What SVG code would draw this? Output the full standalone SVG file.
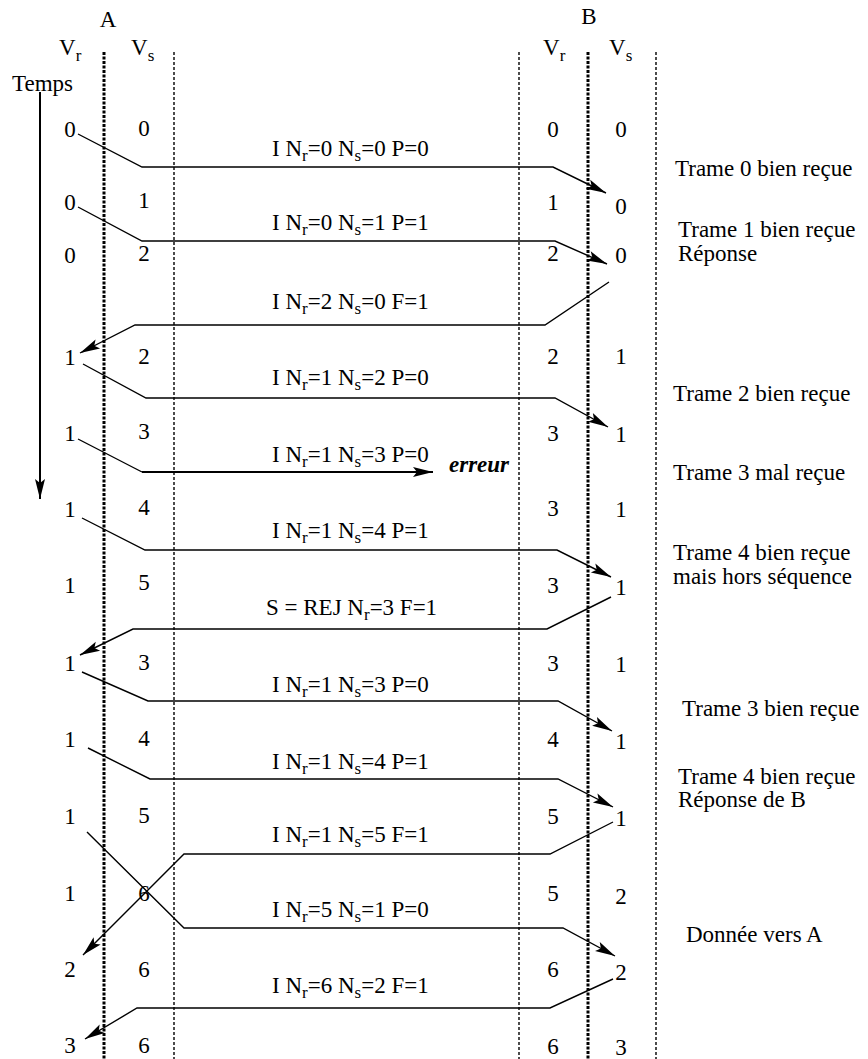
<svg xmlns="http://www.w3.org/2000/svg" width="868" height="1059" viewBox="0 0 868 1059" font-family="'Liberation Serif', 'DejaVu Serif', 'Times New Roman', serif">
<style>
text{font-family:"Liberation Serif","DejaVu Serif","Times New Roman",serif;font-size:23px;fill:#000}
.c{text-anchor:middle}
.sub{font-size:17px}
.err{font-weight:bold;font-style:italic}
.thick{stroke:#000;stroke-width:3;stroke-dasharray:3 1.5;fill:none}
.thin{stroke:#000;stroke-width:1.4;stroke-dasharray:3 2;fill:none}
.msg{stroke:#000;stroke-width:1.4;fill:none;marker-end:url(#ah)}
.seg{stroke:#000;stroke-width:1.4;fill:none}
.msgb{stroke:#000;stroke-width:2.2;fill:none;marker-end:url(#ah)}
</style>
<defs>
<marker id="ah" markerUnits="userSpaceOnUse" viewBox="0 0 20 10" markerWidth="20" markerHeight="10" refX="20" refY="5" orient="auto" overflow="visible">
<path d="M0,0 L20,5 L0,10 L4,5 Z" fill="#000"/>
</marker>
</defs>
<rect width="868" height="1059" fill="#fff"/>

<g id="header">
<text x="108" y="27" class="c">A</text>
<text x="589" y="24" class="c">B</text>
<text x="59" y="55">V<tspan class="sub" dy="6">r</tspan></text>
<text x="131" y="55">V<tspan class="sub" dy="6">s</tspan></text>
<text x="543" y="55">V<tspan class="sub" dy="6">r</tspan></text>
<text x="609" y="55">V<tspan class="sub" dy="6">s</tspan></text>
<text x="12" y="91">Temps</text>
</g>

<g id="lifelines">
<line class="thick" x1="104" y1="52" x2="104" y2="1059"/>
<line class="thin" x1="174" y1="52" x2="174" y2="1059"/>
<line class="thin" x1="519" y1="52" x2="519" y2="1059"/>
<line class="thick" x1="588" y1="52" x2="588" y2="1059"/>
<line class="thin" x1="656" y1="52" x2="656" y2="1059"/>
</g>

<g id="time-axis">
<line x1="40" y1="92" x2="40" y2="499" stroke="#000" stroke-width="2" marker-end="url(#ah)"/>
</g>

<g id="A-Vr">
<text x="70" y="137" class="c">0</text>
<text x="70" y="210" class="c">0</text>
<text x="70" y="263" class="c">0</text>
<text x="70" y="365" class="c">1</text>
<text x="70" y="441" class="c">1</text>
<text x="70" y="517" class="c">1</text>
<text x="70" y="593" class="c">1</text>
<text x="70" y="671" class="c">1</text>
<text x="70" y="747" class="c">1</text>
<text x="70" y="824" class="c">1</text>
<text x="70" y="901" class="c">1</text>
<text x="70" y="977" class="c">2</text>
<text x="70" y="1053" class="c">3</text>
</g>

<g id="A-Vs">
<text x="144" y="136" class="c">0</text>
<text x="144" y="208" class="c">1</text>
<text x="144" y="261" class="c">2</text>
<text x="144" y="364" class="c">2</text>
<text x="144" y="439" class="c">3</text>
<text x="144" y="515" class="c">4</text>
<text x="144" y="590" class="c">5</text>
<text x="144" y="670" class="c">3</text>
<text x="144" y="746" class="c">4</text>
<text x="144" y="823" class="c">5</text>
<text x="144" y="901" class="c">6</text>
<text x="144" y="977" class="c">6</text>
<text x="144" y="1053" class="c">6</text>
</g>

<g id="B-Vr">
<text x="553" y="137" class="c">0</text>
<text x="553" y="210" class="c">1</text>
<text x="553" y="261" class="c">2</text>
<text x="553" y="364" class="c">2</text>
<text x="553" y="441" class="c">3</text>
<text x="553" y="516" class="c">3</text>
<text x="553" y="593" class="c">3</text>
<text x="553" y="671" class="c">3</text>
<text x="553" y="747" class="c">4</text>
<text x="553" y="824" class="c">5</text>
<text x="553" y="901" class="c">5</text>
<text x="553" y="977" class="c">6</text>
<text x="553" y="1054" class="c">6</text>
</g>

<g id="B-Vs">
<text x="621" y="137" class="c">0</text>
<text x="621" y="214" class="c">0</text>
<text x="621" y="263" class="c">0</text>
<text x="621" y="364" class="c">1</text>
<text x="621" y="442" class="c">1</text>
<text x="621" y="517" class="c">1</text>
<text x="621" y="595" class="c">1</text>
<text x="621" y="672" class="c">1</text>
<text x="621" y="749" class="c">1</text>
<text x="621" y="826" class="c">1</text>
<text x="621" y="904" class="c">2</text>
<text x="621" y="980" class="c">2</text>
<text x="621" y="1055" class="c">3</text>
</g>

<g id="connectors">
<path class="msg" d="M78,134 L142,167 L553,167 L606,193"/>
<path class="msg" d="M78,207 L142,241 L555,241 L607,264"/>
<path class="msg" d="M609,282 L545,325 L135,325 L80,353"/>
<path class="msg" d="M83,364 L146,398 L555,398 L608,427"/>
<path class="seg" d="M78,439 L142,472"/>
<path class="msgb" d="M142,472 L433,472"/>
<path class="msg" d="M82,518 L145,550 L557,550 L611,577"/>
<path class="msg" d="M611,597 L547,629 L133,629 L80,655"/>
<path class="msg" d="M82,672 L148,701 L558,701 L612,731"/>
<path class="msg" d="M88,748 L150,779 L558,779 L613,807"/>
<path class="msg" d="M613,822 L550,854 L184,854 L83,955"/>
<path class="msg" d="M87,832 L184,928 L563,928 L615,956"/>
<path class="msg" d="M613,979 L550,1008 L137,1008 L85,1039"/>
</g>

<g id="message-labels">
<text x="272" y="156">I N<tspan class="sub" dy="5">r</tspan><tspan dy="-5">=0 N</tspan><tspan class="sub" dy="5">s</tspan><tspan dy="-5">=0 P=0</tspan></text>
<text x="272" y="230">I N<tspan class="sub" dy="5">r</tspan><tspan dy="-5">=0 N</tspan><tspan class="sub" dy="5">s</tspan><tspan dy="-5">=1 P=1</tspan></text>
<text x="272" y="309">I N<tspan class="sub" dy="5">r</tspan><tspan dy="-5">=2 N</tspan><tspan class="sub" dy="5">s</tspan><tspan dy="-5">=0 F=1</tspan></text>
<text x="272" y="385">I N<tspan class="sub" dy="5">r</tspan><tspan dy="-5">=1 N</tspan><tspan class="sub" dy="5">s</tspan><tspan dy="-5">=2 P=0</tspan></text>
<text x="272" y="462">I N<tspan class="sub" dy="5">r</tspan><tspan dy="-5">=1 N</tspan><tspan class="sub" dy="5">s</tspan><tspan dy="-5">=3 P=0</tspan></text>
<text x="449" y="472" class="err">erreur</text>
<text x="272" y="538">I N<tspan class="sub" dy="5">r</tspan><tspan dy="-5">=1 N</tspan><tspan class="sub" dy="5">s</tspan><tspan dy="-5">=4 P=1</tspan></text>
<text x="266" y="615">S = REJ N<tspan class="sub" dy="5">r</tspan><tspan dy="-5">=3 F=1</tspan></text>
<text x="272" y="692">I N<tspan class="sub" dy="5">r</tspan><tspan dy="-5">=1 N</tspan><tspan class="sub" dy="5">s</tspan><tspan dy="-5">=3 P=0</tspan></text>
<text x="272" y="769">I N<tspan class="sub" dy="5">r</tspan><tspan dy="-5">=1 N</tspan><tspan class="sub" dy="5">s</tspan><tspan dy="-5">=4 P=1</tspan></text>
<text x="272" y="842">I N<tspan class="sub" dy="5">r</tspan><tspan dy="-5">=1 N</tspan><tspan class="sub" dy="5">s</tspan><tspan dy="-5">=5 F=1</tspan></text>
<text x="272" y="917">I N<tspan class="sub" dy="5">r</tspan><tspan dy="-5">=5 N</tspan><tspan class="sub" dy="5">s</tspan><tspan dy="-5">=1 P=0</tspan></text>
<text x="272" y="993">I N<tspan class="sub" dy="5">r</tspan><tspan dy="-5">=6 N</tspan><tspan class="sub" dy="5">s</tspan><tspan dy="-5">=2 F=1</tspan></text>
</g>

<g id="annotations">
<text x="675" y="176">Trame 0 bien reçue</text>
<text x="678" y="237">Trame 1 bien reçue</text>
<text x="678" y="261">Réponse</text>
<text x="673" y="401">Trame 2 bien reçue</text>
<text x="673" y="480">Trame 3 mal reçue</text>
<text x="673" y="560">Trame 4 bien reçue</text>
<text x="673" y="584">mais hors séquence</text>
<text x="682" y="716">Trame 3 bien reçue</text>
<text x="678" y="784">Trame 4 bien reçue</text>
<text x="678" y="807">Réponse de B</text>
<text x="686" y="942">Donnée vers A</text>
</g>
</svg>
